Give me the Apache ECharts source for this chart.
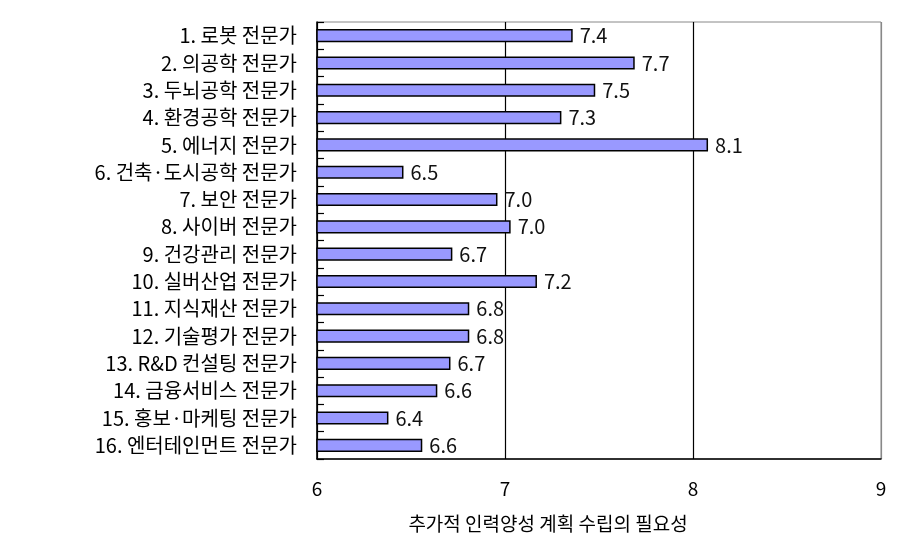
<!DOCTYPE html>
<html>
<head>
<meta charset="utf-8">
<script src="https://cdn.jsdelivr.net/npm/echarts@6/dist/echarts.min.js"></script>
<style>html,body{margin:0;padding:0;background:#fff;}#c{width:923px;height:554px;}</style>
</head>
<body>
<div id="c"></div>
<script>
const categories = ['1. 로봇 전문가','2. 의공학 전문가','3. 두뇌공학 전문가','4. 환경공학 전문가','5. 에너지 전문가','6. 건축·도시공학 전문가','7. 보안 전문가','8. 사이버 전문가','9. 건강관리 전문가','10. 실버산업 전문가','11. 지식재산 전문가','12. 기술평가 전문가','13. R&D 컨설팅 전문가','14. 금융서비스 전문가','15. 홍보·마케팅 전문가','16. 엔터테인먼트 전문가'];
const values = [7.36, 7.69, 7.48, 7.30, 8.08, 6.46, 6.96, 7.03, 6.72, 7.17, 6.81, 6.81, 6.71, 6.64, 6.38, 6.56];
const xTicks = [6, 7, 8, 9];
const xTitle = '추가적 인력양성 계획 수립의 필요성';

const FONT = '"Noto Sans CJK KR", sans-serif';
const chart = echarts.init(document.getElementById('c'), null, {renderer: 'canvas'});
chart.setOption({
  animation: false,
  backgroundColor: '#fff',
  grid: {left: 317, right: 42, top: 22, bottom: 95, show: true, borderColor: '#888', borderWidth: 1, containLabel: false},
  xAxis: {
    type: 'value', min: xTicks[0], max: xTicks[xTicks.length - 1], interval: 1,
    axisLine: {show: true, lineStyle: {color: '#000', width: 1.5}},
    axisTick: {show: false},
    axisLabel: {color: '#000', fontFamily: FONT, fontSize: 19, margin: 20},
    splitLine: {show: true, lineStyle: {color: ['#000', '#000', '#000', '#888'], width: 1.2}}
  },
  yAxis: {
    type: 'category', data: categories, inverse: true,
    axisLine: {show: true, lineStyle: {color: '#000', width: 1.5}},
    axisTick: {show: true, inside: true, length: 7, lineStyle: {color: '#000', width: 1.2}},
    axisLabel: {color: '#000', fontFamily: FONT, fontSize: 20, margin: 20}
  },
  graphic: [{
    type: 'text', x: 548, y: 524,
    style: {text: xTitle, fill: '#000', font: '19px ' + FONT, align: 'center', verticalAlign: 'middle'}
  }],
  series: [{
    type: 'bar', data: values, barCategoryGap: '52%',
    itemStyle: {color: '#9999FF', borderColor: '#000', borderWidth: 1.5},
    label: {show: true, position: 'right', distance: 7, color: '#111', fontFamily: FONT, fontSize: 20,
      formatter: p => p.value.toFixed(1)}
  }]
});
</script>
</body>
</html>
